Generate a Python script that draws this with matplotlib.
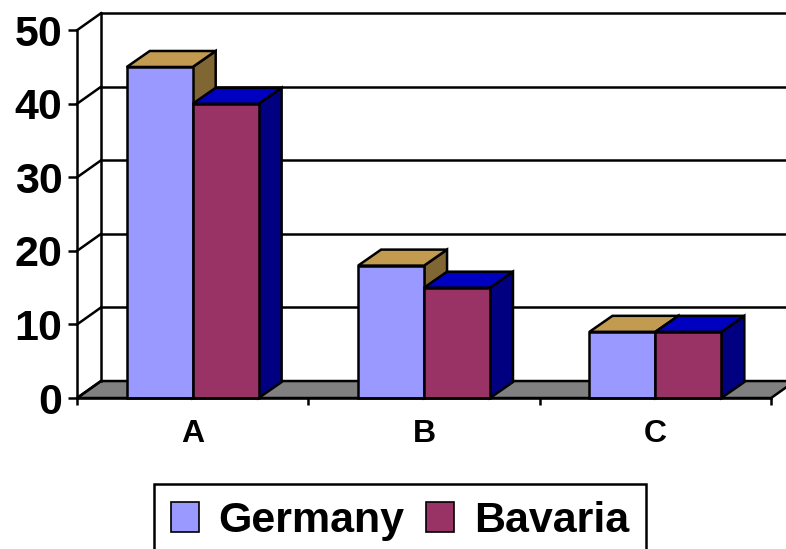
import matplotlib.pyplot as plt
from matplotlib.patches import Polygon, Rectangle, Patch

categories = ['A', 'B', 'C']
series = ['Germany', 'Bavaria']
germany = [45, 18, 9]
bavaria = [40, 15, 9]
yticks = [0, 10, 20, 30, 40, 50]

# front / top / side face colours for each series
front_colors = ['#9999FF', '#993366']
top_colors = ['#C29B50', '#0000C0']
side_colors = ['#806633', '#000080']

plt.rcParams['font.family'] = ['Liberation Sans', 'DejaVu Sans']
plt.rcParams['font.weight'] = 'bold'

fig = plt.figure(figsize=(7.86, 5.49), dpi=100)
ax = fig.add_axes([0.098, 0.275, 0.883, 0.670])
ax.set_xlim(0, len(categories))
ax.set_ylim(0, 50)
ax.patch.set_visible(False)


def depth(px, py):
    # pixel offset -> data offset
    inv = ax.transData.inverted()
    ox, oy = ax.transData.transform((0, 0))
    x, y = inv.transform((ox + px, oy + py))
    return x, y


wdx, wdy = depth(24, 17)   # floor / walls
bdx, bdy = depth(23, 16)   # bar depth
lw = 1.8
n = len(categories)

# floor
ax.add_patch(Polygon([(0, 0), (n, 0), (n + wdx, wdy), (wdx, wdy)],
                     closed=True, facecolor='#808080', edgecolor='black',
                     lw=lw, clip_on=False, zorder=1))
# back wall + left wall lines
ax.plot([wdx, wdx], [wdy, yticks[-1] + wdy], color='black', lw=lw,
        clip_on=False, zorder=1)
ax.plot([n + wdx, n + wdx], [wdy, yticks[-1] + wdy], color='black', lw=lw,
        clip_on=False, zorder=1)
for v in yticks:
    if v > 0:
        ax.plot([wdx, n + wdx], [v + wdy, v + wdy], color='black', lw=lw,
                clip_on=False, zorder=1)
    ax.plot([0, wdx], [v, v + wdy], color='black', lw=lw,
            clip_on=False, zorder=1)

# bars
width = 0.285
gap = 0.215
for i in range(n):
    for j, vals in enumerate([germany, bavaria]):
        v = vals[i]
        x0 = i + gap + j * width
        x1 = x0 + width
        ax.add_patch(Polygon([(x1, 0), (x1, v), (x1 + bdx, v + bdy), (x1 + bdx, bdy)],
                             closed=True, facecolor=side_colors[j],
                             edgecolor='black', lw=lw, clip_on=False, zorder=3))
        ax.add_patch(Polygon([(x0, v), (x1, v), (x1 + bdx, v + bdy), (x0 + bdx, v + bdy)],
                             closed=True, facecolor=top_colors[j],
                             edgecolor='black', lw=lw, clip_on=False, zorder=3))
        ax.add_patch(Rectangle((x0, 0), width, v, facecolor=front_colors[j],
                               edgecolor='black', lw=lw, clip_on=False, zorder=3))

# axes
for s in ['top', 'right']:
    ax.spines[s].set_visible(False)
for s in ['left', 'bottom']:
    ax.spines[s].set_linewidth(lw)
    ax.spines[s].set_zorder(4)

ax.set_yticks(yticks)
ax.tick_params(axis='y', length=6.5, width=lw, pad=4, labelsize=31)
ax.set_xticks(range(n + 1))
ax.set_xticklabels([])
ax.set_xticks([i + 0.5 for i in range(n)], minor=True)
ax.set_xticklabels(categories, minor=True)
ax.tick_params(axis='x', which='major', length=5, width=lw)
ax.tick_params(axis='x', which='minor', length=0, pad=15, labelsize=23)

handles = [Patch(facecolor=c, edgecolor='black', lw=1.2) for c in front_colors]
leg = fig.legend(handles, series, loc='upper center', bbox_to_anchor=(0.509, 0.118),
                 ncol=2, prop={'size': 31, 'weight': 'bold'}, frameon=True,
                 fancybox=False, edgecolor='black', framealpha=1,
                 handlelength=0.65, handleheight=0.7, handletextpad=0.45,
                 columnspacing=0.5, borderpad=0.4, borderaxespad=0)
leg.get_frame().set_linewidth(lw)

fig.savefig('out.png', dpi=100)
